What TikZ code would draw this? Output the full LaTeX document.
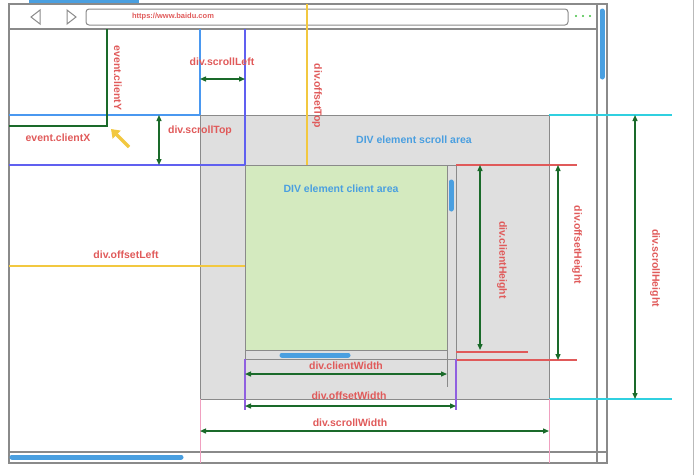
\documentclass[tikz,border=0pt]{standalone}
\usepackage{fontspec}
\setmainfont{Liberation Sans}
\usetikzlibrary{arrows.meta}
\definecolor{myred}{HTML}{E05A5A}
\definecolor{myblue}{HTML}{4A9FE0}
\definecolor{mygreen}{HTML}{1A6A2A}
\definecolor{myframe}{HTML}{8A8A8A}
\definecolor{mypurple}{HTML}{6060F0}
\definecolor{mycyan}{HTML}{30D0E0}
\definecolor{myyellow}{HTML}{F2C840}
\definecolor{mypink}{HTML}{F0A0C0}
\definecolor{myviolet}{HTML}{9060E0}
\definecolor{myguide}{HTML}{4A98F0}
\begin{document}
\begin{tikzpicture}[x=1pt,y=-1pt,
  lbl/.style={text=myred,font=\bfseries\fontsize{10.5}{11}\selectfont,inner sep=1pt},
  blbl/.style={text=myblue,font=\bfseries\fontsize{10.5}{11}\selectfont,inner sep=1pt},
  dim/.style={mygreen,line width=1.3pt,{Triangle[length=6pt,width=5pt]}-{Triangle[length=6pt,width=5pt]}},
  fl/.style={myframe,line width=1.2pt},
  gl/.style={line width=1.4pt},
  thumb/.style={myblue,line width=5pt,line cap=round}]
\useasboundingbox (0,0) rectangle (698,475);
% scroll area and client
\fill[gray!25] (200,115) rectangle (549,399);
\draw[myframe,line width=1pt] (200,115) rectangle (549,399);
\fill[green!35!olive!25] (245,165) rectangle (447,350);
\draw[myframe,line width=1pt] (245,165) rectangle (456,359);
\draw[myframe,line width=1pt] (447,165) -- (447,387);
\draw[myframe,line width=1pt] (245,350) -- (447,350);
\draw[thumb] (451,182) -- (451,209);
\draw[thumb] (282,355) -- (348,355);
% browser frame
\draw[myblue,line width=3pt] (29,1) -- (139,1);
\draw[fl] (9,4) rectangle (607,463);
\draw[fl] (9,29) -- (597,29);
\draw[fl] (597,4) -- (597,463);
\draw[fl] (9,452) -- (607,452);
\draw[myframe!60] (693,0) -- (693,475);
\draw[myframe,line width=1pt,rounded corners=3pt] (86,9) rectangle (568,25);
\draw[myframe,line width=1pt] (40,10) -- (31,17) -- (40,24) -- cycle;
\draw[myframe,line width=1pt] (67,10) -- (76,17) -- (67,24) -- cycle;
\foreach \x in {576,583,590} \fill[green!50!gray] (\x,16) circle (1.1);
\node[text=myred,font=\bfseries\fontsize{7.5}{8}\selectfont] (url) at (173,17) {https://www.baidu.com};
\draw[thumb] (602,11) -- (602,77);
\draw[thumb] (12,457) -- (181,457);
% guide lines
\draw[myguide,gl] (9,115) -- (200,115) (200,29) -- (200,115);
\draw[mycyan,gl] (549,115) -- (672,115) (549,399) -- (672,399);
\draw[mypurple,gl] (9,165) -- (245,165) (245,29) -- (245,165);
\draw[mygreen,gl] (107,29) -- (107,126) -- (9,126);
\draw[myyellow,gl] (307,4) -- (307,165) (9,266) -- (245,266);
\draw[myred,line width=1.2pt] (456,165) -- (577,165) (456,352) -- (528,352) (456,360) -- (577,360);
\draw[mypink,line width=1pt] (200,399) -- (200,463) (549,399) -- (549,463);
\draw[myviolet,line width=1.2pt] (245,359) -- (245,410) (456,359) -- (456,410);
% cursor
\draw[myyellow,line width=3.5pt,-{Triangle[length=8pt,width=11pt]}] (129,147) -- (111,129);
% dims
\coordinate (sl1) at (200,79); \coordinate (sl2) at (245,79);
\draw[dim] (sl1) -- (sl2);
\coordinate (st1) at (159,115); \coordinate (st2) at (159,165);
\draw[dim] (st1) -- (st2);
\coordinate (ch1) at (480,165); \coordinate (ch2) at (480,350);
\draw[dim] (ch1) -- (ch2);
\coordinate (oh1) at (558,165); \coordinate (oh2) at (558,360);
\draw[dim] (oh1) -- (oh2);
\coordinate (sh1) at (635,115); \coordinate (sh2) at (635,399);
\draw[dim] (sh1) -- (sh2);
\coordinate (cw1) at (245,374); \coordinate (cw2) at (447,374);
\draw[dim] (cw1) -- (cw2);
\coordinate (ow1) at (245,406); \coordinate (ow2) at (456,406);
\draw[dim] (ow1) -- (ow2);
\coordinate (sw1) at (200,431); \coordinate (sw2) at (549,431);
\draw[dim] (sw1) -- (sw2);
% labels
\node[lbl] (lsl) at (222,62) {div.scrollLeft};
\node[lbl] (lst) at (200,131) {div.scrollTop};
\node[lbl,rotate=-90] (lot) at (317,96) {div.offsetTop};
\node[lbl,rotate=-90] (lcy) at (118,78) {event.clientY};
\node[lbl] (lcx) at (58,138) {event.clientX};
\node[lbl] (lol) at (126,255) {div.offsetLeft};
\node[lbl,rotate=-90] (lch) at (502,260) {div.clientHeight};
\node[lbl,rotate=-90] (loh) at (577,245) {div.offsetHeight};
\node[lbl,rotate=-90] (lsh) at (655,268) {div.scrollHeight};
\node[lbl] (lcw) at (346,366) {div.clientWidth};
\node[lbl] (low) at (349,396) {div.offsetWidth};
\node[lbl] (lsw) at (350,423) {div.scrollWidth};
\node[blbl] (sa) at (414,140) {DIV element scroll area};
\node[blbl] (ca) at (341,189) {DIV element client area};
\end{tikzpicture}
\end{document}
